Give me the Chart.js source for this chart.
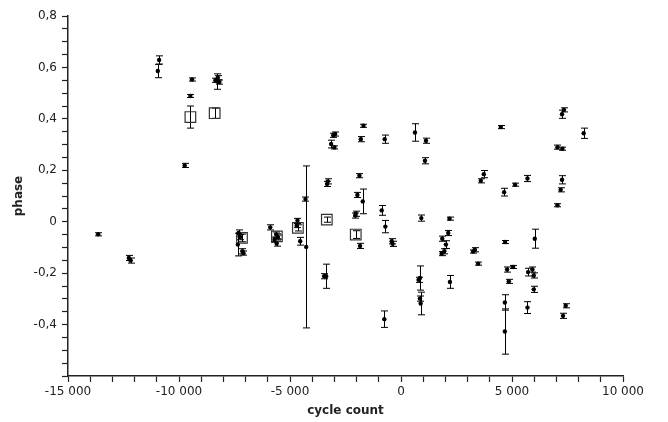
<!DOCTYPE html>
<html>
<head>
<meta charset="utf-8">
<script src="https://cdn.jsdelivr.net/npm/chart.js@4/dist/chart.umd.min.js"></script>
<style>
  html, body { margin: 0; padding: 0; background: #fff; }
  #wrap { width: 668px; height: 422px; }
</style>
</head>
<body>
<div id="wrap"><canvas id="phaseChart"></canvas></div>
<script>
// O-C phase vs cycle count
const cycles = [
  -10895, -10955, -9412, -9487, -9743, -8360, -8270, -8180, -8250,
  -13640, -12260, -12180,
  -7315, -7250, -7350, -7140, -7100,
  -5890, -5620, -5700, -5600, -5550,
  -4663, -4700, -4541, -4302, -4270,
  -3297, -3330, -3462, -3372,
  -2968, -3050, -3147, -2999,
  -1690, -1811, -1873, -1964, -1723, -2038, -2060, -1845,
  -734, -869, -705, -420, -380, -751,
  630, 1124, 1079, 915, 854, 790, 854, 886,
  2187, 2128, 1858, 2023, 1830, 1950, 2204,
  3327, 3250, 3476, 3732, 3597,
  4496, 4645, 4690, 4780, 5050, 4857, 4677, 4677, 5140,
  5697, 6026, 5724, 5921, 5980, 5980, 5697,
  7343, 7253, 8228, 7046, 7271, 7253, 7194, 7046, 7419, 7298
];
const phases = [
  0.629, 0.586, 0.553, 0.489, 0.219, 0.550, 0.545, 0.543, 0.560,
  -0.049, -0.141, -0.151,
  -0.044, -0.060, -0.089, -0.115, -0.122,
  -0.022, -0.050, -0.070, -0.085, -0.060,
  0.005, -0.015, -0.076, 0.088, -0.098,
  0.157, 0.147, -0.212, -0.212,
  0.341, 0.336, 0.302, 0.289,
  0.373, 0.321, 0.179, 0.104, 0.079, 0.031, 0.024, -0.094,
  0.321, 0.044, -0.019, -0.076, -0.086, -0.379,
  0.347, 0.315, 0.237, 0.014, -0.219, -0.226, -0.299, -0.318,
  0.012, -0.044, -0.066, -0.089, -0.124, -0.115, -0.234,
  -0.109, -0.116, -0.163, 0.185, 0.159,
  0.368, 0.115, -0.079, -0.186, -0.176, -0.232, -0.314, -0.427, 0.144,
  0.168, -0.066, -0.196, -0.186, -0.209, -0.263, -0.334,
  0.435, 0.418, 0.344, 0.290, 0.284, 0.163, 0.124, 0.064, -0.327, -0.366
];
const phaseErrors = [
  0.016, 0.026, 0.006, 0.006, 0.008, 0.008, 0.030, 0.008, 0.008,
  0.006, 0.010, 0.010,
  0.012, 0.010, 0.044, 0.010, 0.008,
  0.010, 0.010, 0.010, 0.010, 0.008,
  0.008, 0.008, 0.015, 0.008, 0.315,
  0.010, 0.010, 0.010, 0.047,
  0.008, 0.008, 0.015, 0.006,
  0.006, 0.010, 0.008, 0.010, 0.048, 0.010, 0.010, 0.010,
  0.016, 0.019, 0.024, 0.010, 0.010, 0.032,
  0.034, 0.010, 0.012, 0.012, 0.047, 0.010, 0.010, 0.044,
  0.006, 0.010, 0.010, 0.015, 0.008, 0.010, 0.025,
  0.008, 0.006, 0.006, 0.014, 0.008,
  0.006, 0.015, 0.006, 0.010, 0.006, 0.008, 0.030, 0.088, 0.006,
  0.012, 0.037, 0.015, 0.010, 0.010, 0.012, 0.023,
  0.008, 0.016, 0.020, 0.008, 0.006, 0.016, 0.008, 0.006, 0.008, 0.010
];

// open squares
const squareCycles = [-9487, -8393, -7163, -5590, -4645, -3341, -2038];
const squarePhases = [0.407, 0.422, -0.063, -0.057, -0.024, 0.008, -0.050];
const squareErrors = [0.043, 0.020, 0.015, 0.010, 0.012, 0.010, 0.015];

const textColor = '#222';
const font = { family: 'DejaVu Sans', size: 12 };

function spaced(v) {
  const s = Math.abs(v).toString().replace(/\B(?=(\d{3})+(?!\d))/g, ' ');
  return (v < 0 ? '-' : '') + s;
}

const errorBars = {
  id: 'errorBars',
  beforeDatasetsDraw(chart) {
    const { ctx, scales: { x, y } } = chart;
    ctx.save();
    ctx.strokeStyle = '#000';
    ctx.lineWidth = 1;
    chart.data.datasets.forEach(ds => {
      ds.data.forEach((p, i) => {
        const e = ds.errors[i];
        const px = Math.round(x.getPixelForValue(p.x)) + 0.5;
        const top = y.getPixelForValue(p.y + e);
        const bot = y.getPixelForValue(p.y - e);
        ctx.beginPath();
        ctx.moveTo(px, top); ctx.lineTo(px, bot);
        ctx.moveTo(px - 3.5, top); ctx.lineTo(px + 3.5, top);
        ctx.moveTo(px - 3.5, bot); ctx.lineTo(px + 3.5, bot);
        ctx.stroke();
      });
    });
    ctx.restore();
  }
};

const ctx = document.getElementById('phaseChart').getContext('2d');
new Chart(ctx, {
  type: 'scatter',
  data: {
    datasets: [
      {
        data: cycles.map((c, i) => ({ x: c, y: phases[i] })),
        errors: phaseErrors,
        pointStyle: 'circle',
        pointRadius: 2.2,
        backgroundColor: '#000',
        borderColor: '#000',
        borderWidth: 0,
      },
      {
        data: squareCycles.map((c, i) => ({ x: c, y: squarePhases[i] })),
        errors: squareErrors,
        pointStyle: 'rect',
        pointRadius: 7.5,
        backgroundColor: 'rgba(0,0,0,0)',
        borderColor: '#333',
        borderWidth: 1.2,
      },
    ],
  },
  options: {
    responsive: true,
    maintainAspectRatio: false,
    animation: false,
    events: [],
    layout: { padding: { left: 8, right: 45, top: 16, bottom: 0 } },
    plugins: { legend: { display: false }, tooltip: { enabled: false } },
    scales: {
      x: {
        type: 'linear',
        min: -15000,
        max: 10000,
        afterFit: s => { s.height = 46; },
        border: { color: textColor, width: 1.5 },
        grid: { drawOnChartArea: false, tickLength: 6, tickColor: textColor, tickWidth: 1.2 },
        ticks: {
          stepSize: 1000,
          autoSkip: false,
          maxRotation: 0,
          padding: 3,
          color: textColor,
          font: font,
          callback: v => (v % 5000 === 0 ? spaced(v) : ''),
        },
        title: { display: true, text: 'cycle count', color: textColor, font: { family: 'DejaVu Sans', size: 12, weight: 'bold' } },
      },
      y: {
        min: -0.6,
        max: 0.8,
        afterFit: s => { s.width = 60; },
        border: { color: textColor, width: 1.5 },
        grid: { drawOnChartArea: false, tickLength: 6, tickColor: textColor, tickWidth: 1.2 },
        ticks: {
          stepSize: 0.05,
          autoSkip: false,
          padding: 5,
          color: textColor,
          font: font,
          callback: v => {
            const k = v * 5;
            if (Math.abs(k - Math.round(k)) > 1e-6 || v < -0.55) return '';
            if (Math.abs(v) < 1e-9) return '0';
            return v.toFixed(1).replace('.', ',');
          },
        },
        title: { display: true, text: 'phase', color: textColor, font: { family: 'DejaVu Sans', size: 12, weight: 'bold' } },
      },
    },
  },
  plugins: [errorBars],
});
</script>
</body>
</html>
